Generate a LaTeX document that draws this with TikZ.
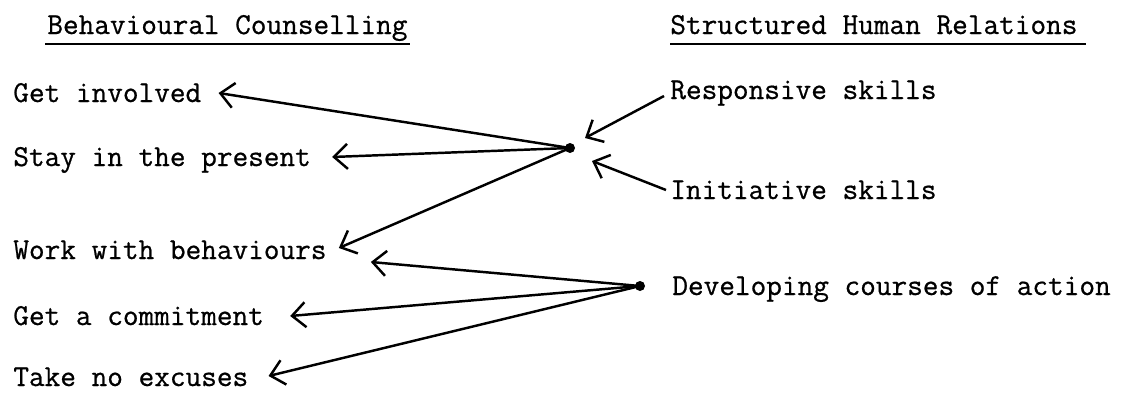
\documentclass[tikz,border=0pt]{standalone}
\usepackage{fontspec}
\usepackage{tikz}
\usetikzlibrary{calc,arrows.meta,positioning}
\newfontfamily\typew{Latin Modern Mono}[FakeBold=0.7]

\begin{document}
\begin{tikzpicture}[x=0.2mm,y=-0.2mm,
    lbl/.style={anchor=base west,inner sep=0pt,font=\fontsize{17.3}{20}\selectfont\typew},
    arr/.style={line width=1.4pt,-{Straight Barb[length=2.7mm,width=5mm]}},
    uline/.style={line width=0.9pt},
    dot/.style={circle,fill,inner sep=0pt,minimum size=2mm}]
  \useasboundingbox (0,0) rectangle (1125,396);
  % headings
  \node[lbl] (bc) at (47,34) {Behavioural Counselling};
  \node[lbl] (shr) at (670,34) {Structured Human Relations};
  \draw[uline] ([shift={(-2,10)}]bc.base west) -- ([shift={(2,10)}]bc.base east);
  \draw[uline] ([shift={(0,10)}]shr.base west) -- ([shift={(8,10)}]shr.base east);
  % left column
  \node[lbl] (gi) at (13,102) {Get involved};
  \node[lbl] (sp) at (13,166) {Stay in the present};
  \node[lbl] (wb) at (13,259) {Work with behaviours};
  \node[lbl] (gc) at (13,325) {Get a commitment};
  \node[lbl] (te) at (13,386) {Take no excuses};
  % right column
  \node[lbl] (rs) at (670,99) {Responsive skills};
  \node[lbl] (is) at (670,199) {Initiative skills};
  \node[lbl] (dc) at (672,295) {Developing courses of action};
  \node[dot] (d1) at (570,148) {};
  \node[dot] (d2) at (640,286) {};
  % arrows
  \draw[arr] ([shift={(-6,-3)}]rs.base west) -- ([shift={(15,-10)}]d1.center);
  \draw[arr] ([shift={(-4,-9)}]is.base west) -- ([shift={(22,13)}]d1.center);
  \draw[arr] (d1.center) -- ([shift={(17,-9)}]gi.base east);
  \draw[arr] (d1.center) -- ([shift={(21,-9)}]sp.base east);
  \draw[arr] (d1.center) -- ([shift={(12,-11)}]wb.base east);
  \draw[arr] (d2.center) -- ([shift={(44,3)}]wb.base east);
  \draw[arr] (d2.center) -- ([shift={(26,-9)}]gc.base east);
  \draw[arr] (d2.center) -- ([shift={(20,-10)}]te.base east);
\end{tikzpicture}
\end{document}
